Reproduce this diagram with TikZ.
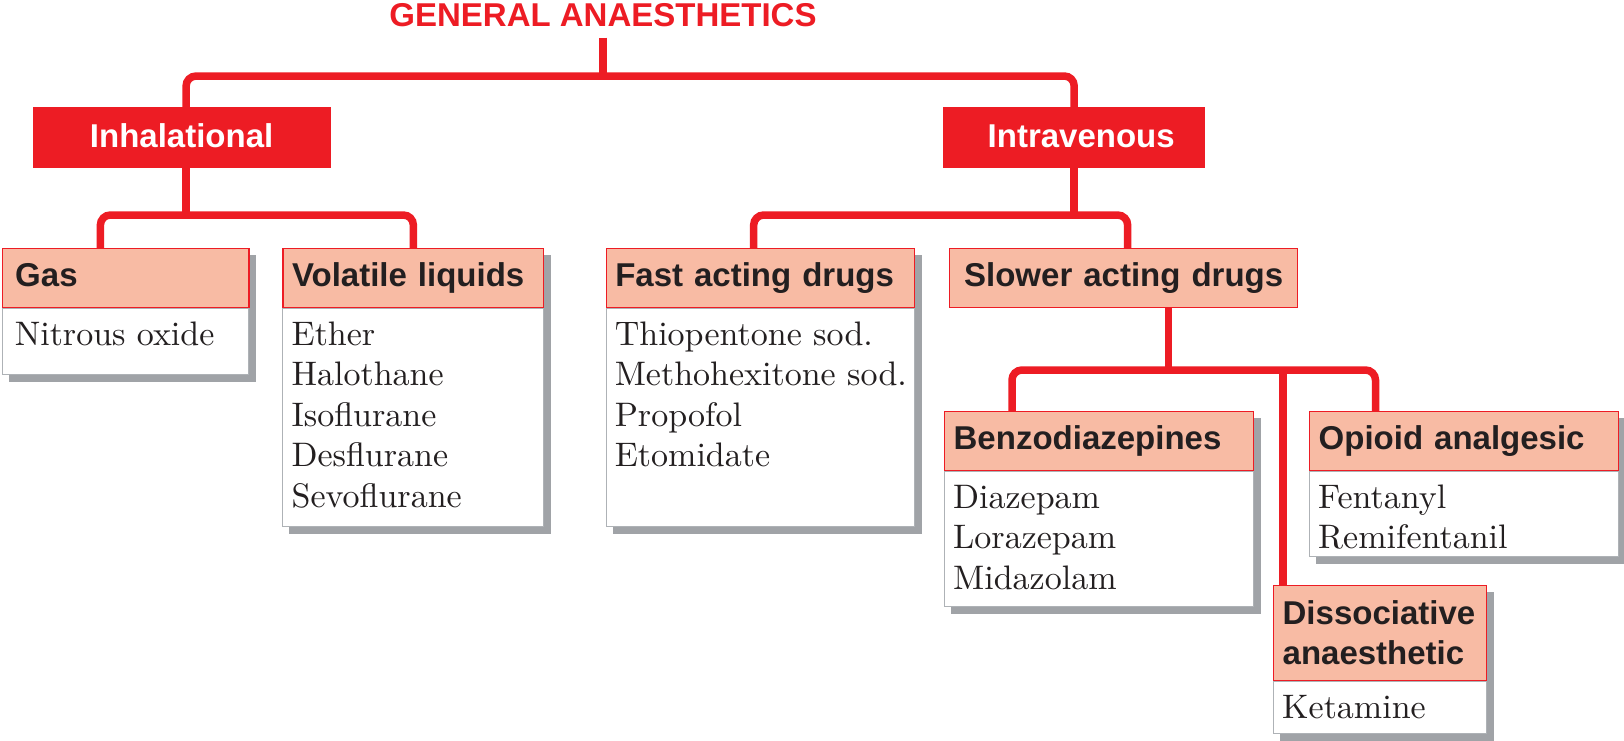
\documentclass[tikz,border=0pt]{standalone}
\usepackage{fontspec}
\setsansfont{Liberation Sans}
\newfontfamily\lmten{lmroman10-regular}[Extension=.otf]
\usetikzlibrary{backgrounds}
\definecolor{brandred}{HTML}{ED1C24}
\definecolor{salmon}{HTML}{F8BBA4}
\definecolor{shadowgray}{HTML}{A0A3A7}
\definecolor{edgegray}{HTML}{AEB2B6}
\definecolor{ink}{HTML}{231F20}
\newcommand\hfnt{\sffamily\bfseries\fontsize{33}{40}\selectfont}
\newcommand\bfnt{\lmten\fontsize{34}{40.5}\selectfont}
\begin{document}
\begin{tikzpicture}[x=1pt,y=-1pt,
  conn/.style={draw=brandred, line width=7.5pt, rounded corners=10pt},
  topbox/.style={fill=brandred, draw=none, text=white, font=\hfnt, anchor=north west, inner sep=0pt, minimum height=61pt, text height=23.7pt, text depth=5pt},
  hdr/.style={draw=brandred, line width=1.3pt, fill=salmon, text=ink, font=\hfnt, anchor=north west, inner ysep=0pt, inner xsep=9pt, align=left},
  hdrone/.style={hdr, minimum height=59pt, text height=23.7pt, text depth=7pt},
  bodybox/.style={draw=edgegray, line width=1pt, fill=white, anchor=north west, inner sep=0pt},
  bodytxt/.style={anchor=north west, inner sep=0pt, align=left, text=ink, font=\bfnt},
  dropshadow/.style={fill=shadowgray}
]
\useasboundingbox (0,0) rectangle (1624,740);

% title
\node[font=\hfnt, text=brandred, inner sep=0pt, anchor=base] (title) at (603,26) {GENERAL ANAESTHETICS};

% first level
\node[topbox, minimum width=298pt] (inhal) at (32.4,107) {Inhalational};
\node[topbox, minimum width=262pt] (intra) at (943,107) {\hspace*{14pt}Intravenous};

% Gas
\node[hdrone, inner xsep=13pt, text width=220.8pt] (gas) at (1.6,248) {Gas};
\node[bodybox, minimum width=246.8pt, minimum height=66pt] (gasb) at (gas.south west) {};
\node[bodytxt] (gast) at ([xshift=13pt,yshift=-8.6pt]gasb.north west) {\strut Nitrous oxide};

% Volatile liquids
\node[hdrone, text width=242.6pt] (vol) at (282.4,248) {Volatile liquids};
\node[bodybox, minimum width=260.6pt, minimum height=218pt] (volb) at (vol.south west) {};
\node[bodytxt] (volt) at ([xshift=9pt,yshift=-8.6pt]volb.north west) {\strut Ether\\Halothane\\Isoflurane\\Desflurane\\Sevoflurane};

% Fast acting drugs
\node[hdrone, text width=289.9pt] (fast) at (605.6,248) {Fast acting drugs};
\node[bodybox, minimum width=307.9pt, minimum height=218pt] (fastb) at (fast.south west) {};
\node[bodytxt] (fastt) at ([xshift=9pt,yshift=-8.6pt]fastb.north west) {\strut Thiopentone sod.\\Methohexitone sod.\\Propofol\\Etomidate};

% Slower acting drugs
\node[hdrone, align=center, text width=330pt] (slow) at (949,248) {Slower acting drugs};

% Benzodiazepines
\node[hdrone, text width=291pt] (benzo) at (944,411) {Benzodiazepines};
\node[bodybox, minimum width=309pt, minimum height=135pt] (benzob) at (benzo.south west) {};
\node[bodytxt] (benzot) at ([xshift=9pt,yshift=-8.6pt]benzob.north west) {\strut Diazepam\\Lorazepam\\Midazolam};

% Opioid analgesic
\node[hdrone, text width=291pt] (opio) at (1309,411) {Opioid analgesic};
\node[bodybox, minimum width=309pt, minimum height=85pt] (opiob) at (opio.south west) {};
\node[bodytxt] (opiot) at ([xshift=9pt,yshift=-8.6pt]opiob.north west) {\strut Fentanyl\\Remifentanil};

% Dissociative anaesthetic
\node[hdr, text width=195pt, minimum height=95pt] (diss) at (1273,585) {Dissociative\\anaesthetic};
\node[bodybox, minimum width=213pt, minimum height=52pt] (dissb) at (diss.south west) {};
\node[bodytxt] (disst) at ([xshift=9pt,yshift=-8.6pt]dissb.north west) {\strut Ketamine};

% shadows and background
\begin{scope}[on background layer]
  \fill[white] (0,0) rectangle (1624,740);
  \foreach \h/\b in {gas/gasb, vol/volb, fast/fastb, benzo/benzob, opio/opiob, diss/dissb}{
    \path[dropshadow] ([xshift=7pt,yshift=-7pt]\h.north west) rectangle ([xshift=7pt,yshift=-7pt]\b.south east);
  }
\end{scope}

% connectors
\coordinate (topj) at (603,76);
\coordinate (lvl2) at (0,215);
\coordinate (lvl3) at (0,370);
\draw[conn] ([yshift=-11pt]title.south) -- (topj);
\draw[conn] ([xshift=4.5pt]inhal.north) |- (topj) -| (intra.north);

\coordinate (inhs) at ([xshift=4.5pt]inhal.south);
\draw[conn] (inhs) -- (inhs |- lvl2);
\draw[conn] ([xshift=98.8pt]gas.north west) |- (inhs |- lvl2) -| (vol.north);

\draw[conn] (intra.south) -- (intra.south |- lvl2);
\draw[conn] ([xshift=-6.5pt]fast.north) |- (intra.south |- lvl2) -| ([xshift=4pt]slow.north);

\coordinate (slows) at ([xshift=45pt]slow.south);
\draw[conn] (slows) -- (slows |- lvl3);
\draw[conn] ([xshift=68pt]benzo.north west) |- (slows |- lvl3) -| ([xshift=66.5pt]opio.north west);
\coordinate (dissj) at ([xshift=10pt]diss.north west);
\draw[conn] (dissj) -- (dissj |- lvl3);
\end{tikzpicture}
\end{document}
